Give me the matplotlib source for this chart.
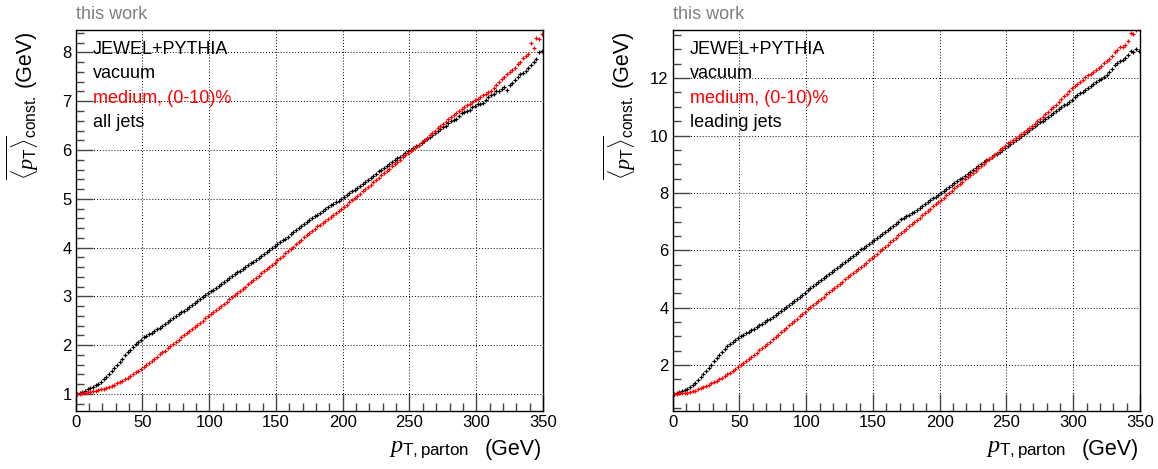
import numpy as np
import matplotlib
matplotlib.use('Agg')
import matplotlib.pyplot as plt
from matplotlib.ticker import MultipleLocator

plt.rcParams['font.family'] = ['Liberation Sans', 'DejaVu Sans']
plt.rcParams['mathtext.fontset'] = 'custom'
plt.rcParams['mathtext.it'] = 'Liberation Serif:italic'
plt.rcParams['mathtext.rm'] = 'Liberation Sans'
plt.rcParams['mathtext.sf'] = 'Liberation Sans'

# parton pT bin centres, 2 GeV bins
pt_parton = np.arange(1, 350, 2)

# all jets, vacuum
vac_all = [
    1.00, 1.02, 1.04, 1.07, 1.10, 1.13, 1.15, 1.18, 1.21, 1.25,
    1.30, 1.35, 1.41, 1.47, 1.53, 1.60, 1.66, 1.72, 1.79, 1.85,
    1.91, 1.97, 2.02, 2.07, 2.11, 2.16, 2.19, 2.22, 2.25, 2.29,
    2.33, 2.36, 2.40, 2.44, 2.48, 2.52, 2.55, 2.59, 2.63, 2.67,
    2.71, 2.75, 2.78, 2.82, 2.86, 2.90, 2.94, 2.98, 3.02, 3.06,
    3.10, 3.13, 3.17, 3.21, 3.25, 3.29, 3.33, 3.37, 3.41, 3.45,
    3.49, 3.52, 3.56, 3.60, 3.64, 3.68, 3.71, 3.75, 3.79, 3.83,
    3.87, 3.91, 3.95, 3.99, 4.04, 4.08, 4.11, 4.15, 4.18, 4.22,
    4.27, 4.31, 4.36, 4.40, 4.44, 4.48, 4.52, 4.56, 4.60, 4.64,
    4.67, 4.71, 4.75, 4.79, 4.83, 4.87, 4.90, 4.93, 4.96, 5.00,
    5.03, 5.07, 5.11, 5.15, 5.19, 5.23, 5.27, 5.31, 5.35, 5.39,
    5.43, 5.47, 5.51, 5.56, 5.60, 5.64, 5.67, 5.71, 5.75, 5.79,
    5.83, 5.86, 5.90, 5.93, 5.97, 6.00, 6.04, 6.08, 6.11, 6.15,
    6.19, 6.23, 6.27, 6.31, 6.35, 6.38, 6.43, 6.47, 6.50, 6.55,
    6.60, 6.61, 6.64, 6.70, 6.76, 6.78, 6.80, 6.83, 6.88, 6.91,
    6.94, 6.95, 6.96, 7.03, 7.08, 7.12, 7.15, 7.20, 7.22, 7.26,
    7.29, 7.24, 7.33, 7.38, 7.43, 7.50, 7.55, 7.58, 7.62, 7.68,
    7.74, 7.80, 7.87, 8.00, 8.03,
]
# all jets, medium (0-10)%
med_all = [
    1.00, 1.00, 1.01, 1.02, 1.03, 1.04, 1.05, 1.06, 1.08, 1.10,
    1.11, 1.13, 1.15, 1.17, 1.19, 1.22, 1.24, 1.27, 1.30, 1.33,
    1.36, 1.40, 1.44, 1.48, 1.52, 1.56, 1.60, 1.64, 1.68, 1.72,
    1.76, 1.81, 1.85, 1.89, 1.94, 1.98, 2.02, 2.07, 2.11, 2.16,
    2.20, 2.24, 2.29, 2.33, 2.37, 2.42, 2.46, 2.50, 2.55, 2.59,
    2.63, 2.68, 2.72, 2.76, 2.81, 2.85, 2.89, 2.94, 2.98, 3.03,
    3.07, 3.11, 3.16, 3.20, 3.25, 3.29, 3.33, 3.38, 3.42, 3.47,
    3.51, 3.56, 3.60, 3.65, 3.69, 3.74, 3.79, 3.83, 3.88, 3.93,
    3.98, 4.02, 4.07, 4.12, 4.16, 4.21, 4.26, 4.30, 4.35, 4.39,
    4.44, 4.47, 4.51, 4.55, 4.59, 4.63, 4.67, 4.71, 4.76, 4.80,
    4.84, 4.88, 4.93, 4.97, 5.01, 5.05, 5.10, 5.15, 5.20, 5.24,
    5.29, 5.34, 5.39, 5.43, 5.48, 5.53, 5.57, 5.62, 5.67, 5.71,
    5.76, 5.80, 5.85, 5.89, 5.94, 5.98, 6.02, 6.07, 6.11, 6.16,
    6.20, 6.25, 6.30, 6.35, 6.40, 6.45, 6.49, 6.54, 6.58, 6.63,
    6.68, 6.71, 6.75, 6.80, 6.84, 6.88, 6.92, 6.95, 6.99, 7.02,
    7.05, 7.08, 7.12, 7.15, 7.19, 7.22, 7.28, 7.34, 7.40, 7.45,
    7.50, 7.55, 7.60, 7.64, 7.69, 7.76, 7.80, 7.88, 7.93, 7.96,
    8.20, 8.10, 8.30, 8.27, 8.38,
]
# leading jets, vacuum
vac_lead = [
    1.00, 1.02, 1.05, 1.08, 1.12, 1.18, 1.24, 1.31, 1.39, 1.48,
    1.58, 1.69, 1.80, 1.91, 2.02, 2.14, 2.25, 2.36, 2.46, 2.56,
    2.66, 2.74, 2.82, 2.89, 2.95, 3.01, 3.06, 3.12, 3.17, 3.22,
    3.27, 3.33, 3.39, 3.44, 3.50, 3.56, 3.62, 3.68, 3.74, 3.80,
    3.87, 3.94, 4.01, 4.08, 4.15, 4.22, 4.30, 4.37, 4.45, 4.52,
    4.60, 4.67, 4.74, 4.81, 4.88, 4.95, 5.02, 5.09, 5.16, 5.23,
    5.30, 5.37, 5.44, 5.51, 5.58, 5.65, 5.72, 5.80, 5.88, 5.95,
    6.03, 6.09, 6.16, 6.23, 6.29, 6.36, 6.43, 6.50, 6.57, 6.64,
    6.71, 6.78, 6.86, 6.93, 7.00, 7.08, 7.12, 7.18, 7.24, 7.29,
    7.35, 7.42, 7.49, 7.55, 7.62, 7.69, 7.75, 7.81, 7.87, 7.92,
    7.98, 8.05, 8.12, 8.19, 8.26, 8.33, 8.40, 8.47, 8.53, 8.60,
    8.67, 8.74, 8.81, 8.88, 8.95, 9.02, 9.08, 9.14, 9.19, 9.25,
    9.31, 9.37, 9.44, 9.50, 9.57, 9.63, 9.70, 9.77, 9.84, 9.91,
    9.98, 10.05, 10.12, 10.18, 10.25, 10.32, 10.39, 10.46, 10.52, 10.59,
    10.66, 10.73, 10.79, 10.86, 10.92, 10.99, 11.05, 11.11, 11.18, 11.24,
    11.33, 11.40, 11.47, 11.53, 11.60, 11.67, 11.73, 11.80, 11.86, 11.93,
    11.98, 12.04, 12.12, 12.23, 12.33, 12.45, 12.52, 12.58, 12.63, 12.70,
    12.81, 12.93, 12.91, 13.01, 12.95,
]
# leading jets, medium (0-10)%
med_lead = [
    1.00, 1.00, 1.01, 1.01, 1.02, 1.03, 1.05, 1.08, 1.11, 1.15,
    1.19, 1.23, 1.27, 1.31, 1.36, 1.41, 1.46, 1.51, 1.56, 1.62,
    1.68, 1.74, 1.80, 1.87, 1.94, 2.01, 2.08, 2.15, 2.22, 2.29,
    2.36, 2.43, 2.51, 2.58, 2.66, 2.74, 2.82, 2.90, 2.98, 3.06,
    3.14, 3.22, 3.30, 3.38, 3.46, 3.54, 3.62, 3.70, 3.78, 3.86,
    3.94, 4.02, 4.09, 4.17, 4.24, 4.32, 4.39, 4.47, 4.54, 4.62,
    4.69, 4.76, 4.84, 4.91, 4.99, 5.06, 5.13, 5.20, 5.28, 5.35,
    5.43, 5.50, 5.57, 5.65, 5.73, 5.80, 5.88, 5.96, 6.04, 6.12,
    6.20, 6.28, 6.36, 6.44, 6.52, 6.60, 6.67, 6.75, 6.83, 6.91,
    6.99, 7.07, 7.14, 7.22, 7.30, 7.38, 7.45, 7.53, 7.60, 7.68,
    7.76, 7.84, 7.92, 8.00, 8.08, 8.16, 8.23, 8.31, 8.39, 8.47,
    8.55, 8.63, 8.70, 8.78, 8.86, 8.94, 9.02, 9.10, 9.17, 9.25,
    9.33, 9.40, 9.48, 9.56, 9.63, 9.74, 9.79, 9.86, 9.92, 9.99,
    10.05, 10.12, 10.19, 10.26, 10.34, 10.41, 10.50, 10.58, 10.66, 10.74,
    10.83, 10.91, 11.00, 11.08, 11.17, 11.26, 11.36, 11.45, 11.55, 11.64,
    11.72, 11.78, 11.86, 11.95, 12.03, 12.10, 12.16, 12.22, 12.30, 12.37,
    12.44, 12.52, 12.60, 12.68, 12.76, 12.90, 12.98, 13.07, 13.10, 13.15,
    13.31, 13.57, 13.54, 13.66, 13.70,
]

panels = [
    (vac_all, med_all, 'all jets', (0.65, 8.45), 1, 0.2),
    (vac_lead, med_lead, 'leading jets', (0.4, 13.66), 2, 0.5),
]

W, H = 1158, 469
fig = plt.figure(figsize=(W / 100, H / 100), dpi=100)

# pixel offsets of the two pads
for (vac, med, jets, ylim, ymajor, yminor), dx in zip(panels, [0, 597]):
    ax = fig.add_axes([(75.7 + dx) / W, 1 - 411 / H, 467.3 / W, 380.5 / H])
    ax.plot(pt_parton, vac, ls='none', marker='+', ms=3, mew=0.9, color='black')
    ax.plot(pt_parton, med, ls='none', marker='+', ms=3, mew=0.9, color='#ff0000')
    ax.set_xlim(0, 350)
    ax.set_ylim(*ylim)
    ax.xaxis.set_major_locator(MultipleLocator(50))
    ax.xaxis.set_minor_locator(MultipleLocator(10))
    ax.yaxis.set_major_locator(MultipleLocator(ymajor))
    ax.yaxis.set_minor_locator(MultipleLocator(yminor))
    ax.tick_params(which='both', direction='in', top=False, right=False, labelsize=12, pad=3)
    ax.tick_params(which='major', length=12, width=1, color='#444444')
    ax.tick_params(which='minor', length=6, width=1, color='#444444')
    ax.grid(True, which='major', color='black', lw=0.7, ls=(0, (1, 2)))
    for s in ax.spines.values():
        s.set_linewidth(1)

    # axis titles, ROOT style: right / top aligned
    fig.text((542 + dx) / W, 1 - 455 / H, '(GeV)', ha='right', va='baseline', fontsize=15.5)
    fig.text((469 + dx) / W, 1 - 452 / H, r'$p_{\mathrm{T,parton}}$', ha='right', va='baseline',
             fontsize=17.5)
    fig.text((31 + dx) / W, 1 - 30 / H, '(GeV)', rotation=90, rotation_mode='anchor',
             ha='right', va='baseline', fontsize=15.5)
    fig.text((34 + dx) / W, 1 - 96 / H, r'$\overline{\langle p_{\mathrm{T}}\rangle}_{\mathrm{const.}}$',
             rotation=90, rotation_mode='anchor', ha='right', va='baseline', fontsize=16)

    ax.text(0.0, 1.029, 'this work', transform=ax.transAxes, fontsize=13, color='#808080')
    ax.text(0.036, 0.938, 'JEWEL+PYTHIA', transform=ax.transAxes, fontsize=13)
    ax.text(0.036, 0.874, 'vacuum', transform=ax.transAxes, fontsize=13)
    ax.text(0.036, 0.810, 'medium, (0-10)%', transform=ax.transAxes, fontsize=13, color='#ff0000')
    ax.text(0.036, 0.746, jets, transform=ax.transAxes, fontsize=13)

fig.savefig('out.png', dpi=100)
